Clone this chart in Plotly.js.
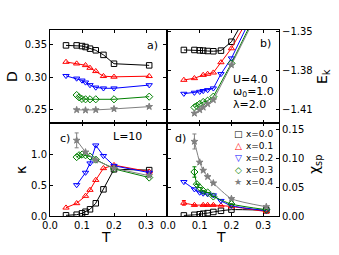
<!DOCTYPE html>
<html><head><meta charset="utf-8">
<script src="https://cdn.plot.ly/plotly-3.0.1.min.js"></script>
<style>html,body{margin:0;padding:0;background:#fff}#chart{width:339px;height:255px}</style>
</head><body><div id="chart"></div>
<script>
// series labels
const seriesNames = ['x=0.0', 'x=0.1', 'x=0.2', 'x=0.3', 'x=0.4'];
// temperatures per series
const T_x00 = [0.05, 0.0833, 0.1, 0.111, 0.125, 0.143, 0.167, 0.2, 0.31];
const T_x01 = [0.05, 0.0833, 0.111, 0.125, 0.143, 0.167, 0.2, 0.31];
const T_x02 = [0.05, 0.0833, 0.1, 0.111, 0.125, 0.143, 0.167, 0.2, 0.31];
const T_x03 = [0.0833, 0.0909, 0.1, 0.111, 0.125, 0.143, 0.2, 0.31];
const T_x04 = [0.0833, 0.1, 0.111, 0.125, 0.143, 0.2, 0.31];
// panel a) double occupancy D
const D_x00 = [0.3485, 0.3485, 0.3475, 0.346, 0.3435, 0.341, 0.334, 0.3205, 0.318];
const D_x01 = [0.3232, 0.3207, 0.3182, 0.3141, 0.3091, 0.3015, 0.3005, 0.3015];
const D_x02 = [0.302, 0.298, 0.295, 0.292, 0.288, 0.2843, 0.283, 0.283, 0.2879];
const D_x03 = [0.2727, 0.2692, 0.2667, 0.2662, 0.2662, 0.2662, 0.2662, 0.2702];
const D_x04 = [0.250, null, 0.2495, null, 0.250, 0.2515, 0.255];
// panel b) kinetic energy E_k
const E_x00 = [-1.3640, -1.3640, -1.3643, -1.3645, -1.3648, -1.3650, -1.3645, -1.3577, -1.3109];
const E_x01 = [-1.3870, -1.3857, -1.3832, -1.3824, -1.3814, -1.3735, -1.3628, -1.3153];
const E_x02 = [-1.3975, -1.3967, -1.3960, -1.3954, -1.3947, -1.3934, -1.3824, -1.3704, -1.3150];
const E_x03 = [-1.4080, -1.4069, -1.4054, -1.4039, -1.4029, -1.3998, -1.3743, -1.3196];
const E_x04 = [-1.4126, -1.4100, -1.4080, -1.4054, -1.4023, -1.3755, -1.3219];
// panel c) kappa
const K_x00 = [0.011, 0.021, 0.043, 0.069, 0.108, 0.205, 0.43, 0.753, 0.74];
const K_x01 = [0.134, 0.205, 0.323, 0.42, 0.58, 0.77, 0.82, 0.715];
const K_x02 = [null, 0.5, null, 0.70, 0.85, 1.14, 0.97, 0.81, 0.70];
const K_x03 = [0.95, 0.98, 0.99, 0.98, 0.96, 0.91, 0.76, 0.62];
const K_x04 = [1.22, null, 1.03, null, 0.90, 0.77, 0.65];
const K_err_x04 = [0.12, 0, 0, 0, 0, 0, 0];
// panel d) chi_sp
const C_x00 = [0.001, 0.002, 0.003, 0.004, 0.005, 0.007, 0.009, 0.011, 0.010];
const C_x01 = [0.0227, 0.019, 0.019, 0.019, 0.019, 0.018, 0.0165, 0.0075];
const C_x02 = [0.059, 0.0464, 0.0407, 0.039, 0.0378, 0.036, 0.0263, 0.0178, 0.0092];
const C_x03 = [0.0762, 0.055, 0.0493, 0.0435, 0.0407, 0.0338, 0.0206, 0.0109];
const C_x04 = [0.129, 0.093, 0.079, 0.068, 0.057, 0.030, 0.016];
const C_err_x01 = [0.004, 0, 0, 0, 0, 0, 0, 0];
const C_err_x03 = [0.009, 0, 0, 0, 0, 0, 0, 0];
const C_err_x04 = [0.013, 0, 0, 0, 0, 0, 0];
// tick labels
const xTicks = [0.0, 0.1, 0.2, 0.3];
const dTicks = [0.25, 0.30, 0.35];
const eTicks = [-1.41, -1.38, -1.35];
const kTicks = [0.0, 0.5, 1.0];
const cTicks = [0.00, 0.05, 0.10, 0.15];

const colors = ['#000000', '#ff0000', '#0000ff', '#008000', '#808080'];
const symbols = ['square-open', 'triangle-up-open', 'triangle-down-open', 'diamond-open', 'star'];
const Ts = [T_x00, T_x01, T_x02, T_x03, T_x04];

function build(T, Y, E) {
  const x = [], y = [], e = [];
  T.forEach((t, i) => {
    if (Y[i] !== null && Y[i] !== undefined) { x.push(t); y.push(Y[i]); e.push(E ? E[i] : 0); }
  });
  return {x, y, e};
}

const panels = [
  {ys: [D_x00, D_x01, D_x02, D_x03, D_x04], errs: [], xa: 'x', ya: 'y', shape: 'linear'},
  {ys: [E_x00, E_x01, E_x02, E_x03, E_x04], errs: [], xa: 'x2', ya: 'y2', shape: 'linear'},
  {ys: [K_x00, K_x01, K_x02, K_x03, K_x04], errs: [null, null, null, null, K_err_x04], xa: 'x3', ya: 'y3', shape: 'linear'},
  {ys: [C_x00, C_x01, C_x02, C_x03, C_x04], errs: [null, C_err_x01, null, C_err_x03, C_err_x04], xa: 'x4', ya: 'y4', shape: 'spline'}
];

const traces = [];
panels.forEach(p => {
  p.ys.forEach((Y, s) => {
    const E = p.errs[s] || null;
    const d = build(Ts[s], Y, E);
    const tr = {
      type: 'scatter', mode: 'lines+markers', x: d.x, y: d.y, xaxis: p.xa, yaxis: p.ya,
      name: seriesNames[s], showlegend: false,
      line: {color: colors[s], width: 1, shape: p.shape, smoothing: 0.6},
      marker: {symbol: symbols[s], size: s === 4 ? 5 : 5.5, color: colors[s], line: {width: 1, color: colors[s]}}
    };
    if (E) tr.error_y = {type: 'data', array: d.e, visible: true, color: colors[s], thickness: 1, width: 2};
    traces.push(tr);
  });
});

const W = 339, H = 255;
const xa = [50 / W, 166 / W], xb = [168 / W, 279 / W];
const yt = [1 - 123 / H, 1 - 30 / H], yb = [1 - 216 / H, 1 - 123 / H];
const font = {family: 'DejaVu Sans', size: 10, color: '#000'};
function ax(dom, extra) {
  return Object.assign({domain: dom, showgrid: false, zeroline: false, showline: true, linecolor: '#000', linewidth: 1,
    mirror: 'ticks', ticks: 'inside', ticklen: 3, tickwidth: 1, tickcolor: '#000', tickfont: font}, extra);
}

const ann = [];
function A(text, x, y, opts) {
  ann.push(Object.assign({text, x, y, showarrow: false, xanchor: 'center', yanchor: 'middle',
    font: {family: 'DejaVu Sans', size: 11, color: '#000'}}, opts));
}
A('a)', 0.95, 0.925, {xref: 'x domain', yref: 'y domain', xanchor: 'right', yanchor: 'top'});
A('b)', 0.946, 0.946, {xref: 'x2 domain', yref: 'y2 domain', xanchor: 'right', yanchor: 'top'});
A('c)', 0.07, 0.925, {xref: 'x3 domain', yref: 'y3 domain', xanchor: 'left', yanchor: 'top'});
A('d)', 0.045, 0.925, {xref: 'x4 domain', yref: 'y4 domain', xanchor: 'left', yanchor: 'top'});
A('L=10', 0.668, 0.85, {xref: 'x3 domain', yref: 'y3 domain'});
A('U=4.0', 0.567, 0.473, {xref: 'x2 domain', yref: 'y2 domain', xanchor: 'left'});
A('ω<sub>0</sub>=1.0', 0.567, 0.333, {xref: 'x2 domain', yref: 'y2 domain', xanchor: 'left'});
A('λ=2.0', 0.567, 0.194, {xref: 'x2 domain', yref: 'y2 domain', xanchor: 'left'});
// axis titles
const tf = {family: 'DejaVu Sans', size: 14, color: '#000'};
A('D', 12 / W, 1 - 77 / H, {xref: 'paper', yref: 'paper', textangle: -90, font: tf});
A('κ', 21 / W, 1 - 170 / H, {xref: 'paper', yref: 'paper', textangle: -90, font: tf});
A('T', 106 / W, 1 - 237 / H, {xref: 'paper', yref: 'paper', font: tf});
A('T', 221 / W, 1 - 237 / H, {xref: 'paper', yref: 'paper', font: tf});
A('E<sub>k</sub>', 323 / W, 1 - 77 / H, {xref: 'paper', yref: 'paper', textangle: -90, font: tf});
A('χ<sub>sp</sub>', 315 / W, 1 - 165 / H, {xref: 'paper', yref: 'paper', textangle: -90, font: tf});
// legend (panel d)
const legSym = ['□', '△', '▽', '◇', '★'];
const legY = [134, 146, 158, 170, 182];
seriesNames.forEach((n, i) => {
  A(legSym[i], 238 / W, 1 - legY[i] / H, {xref: 'paper', yref: 'paper',
    font: {family: 'DejaVu Sans', size: 9, color: colors[i]}});
  A(n, 244 / W, 1 - legY[i] / H, {xref: 'paper', yref: 'paper', xanchor: 'left',
    font: {family: 'DejaVu Sans', size: 9, color: '#000'}});
});

const layout = {
  width: W, height: H, margin: {l: 0, r: 0, t: 0, b: 0}, paper_bgcolor: '#fff', plot_bgcolor: '#fff',
  showlegend: false, font: font,
  xaxis: ax(xa, {anchor: 'y', range: [0, 0.3625], tickvals: xTicks, showticklabels: false}),
  yaxis: ax(yt, {anchor: 'x', range: [0.230, 0.372], tickvals: dTicks, tickformat: '.2f'}),
  xaxis2: ax(xb, {anchor: 'y2', range: [0, 0.35], tickvals: xTicks, showticklabels: false}),
  yaxis2: ax(yt, {anchor: 'x2', side: 'right', range: [-1.420, -1.3487], tickvals: eTicks, tickformat: '.2f'}),
  xaxis3: ax(xa, {anchor: 'y3', range: [0, 0.3625], tickvals: xTicks, tickformat: '.1f'}),
  yaxis3: ax(yb, {anchor: 'x3', range: [0, 1.5], tickvals: kTicks, tickformat: '.1f'}),
  xaxis4: ax(xb, {anchor: 'y4', range: [0, 0.35], tickvals: xTicks, tickformat: '.1f'}),
  yaxis4: ax(yb, {anchor: 'x4', side: 'right', range: [0, 0.161], tickvals: cTicks, tickformat: '.2f'}),
  annotations: ann
};
Plotly.newPlot('chart', traces, layout, {staticPlot: true, displayModeBar: false});
</script></body></html>
